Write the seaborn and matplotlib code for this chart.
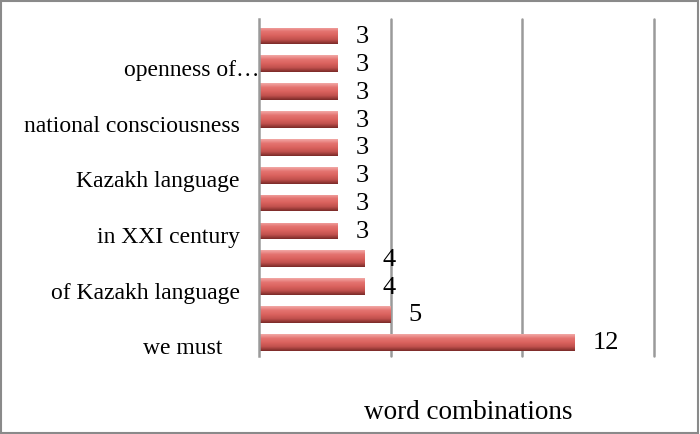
import numpy as np
import matplotlib
matplotlib.use("Agg")
import matplotlib.pyplot as plt
import matplotlib.transforms as mtransforms
from matplotlib.colors import LinearSegmentedColormap
from matplotlib.patches import Rectangle
import seaborn as sns
import pandas as pd

# ---- data (top to bottom, as shown) ----
slots = [f"p{i}" for i in range(12)]
tick_labels = ["", "openness of\u2026", "", "national consciousness", "",
               "Kazakh language", "", "in XXI century", "",
               "of Kazakh language", "", "we must   "]
counts = [3, 3, 3, 3, 3, 3, 3, 3, 4, 4, 5, 12]
x_label = "word combinations"

sns.set_theme(style="white")
plt.rcParams["font.family"] = ["Liberation Serif", "DejaVu Serif"]
plt.rcParams["text.color"] = "black"

df = pd.DataFrame({"slot": slots, "count": counts})

fig = plt.figure(figsize=(7, 4.35), dpi=100)
ax = fig.add_axes([0.37, 0.179, 0.5636, 0.775])

sns.barplot(data=df, x="count", y="slot", order=slots, orient="h",
            width=0.6, color="#C0504D", ax=ax, saturation=1)

# cylinder-like shading on each bar
shade = LinearSegmentedColormap.from_list(
    "shade", ["#F2A8A6", "#E4736F", "#DA625E", "#C0504D", "#7A2A28"])
grad = np.linspace(0, 1, 64).reshape(-1, 1)
for p in ax.patches:
    x0, y0, w, h = p.get_x(), p.get_y(), p.get_width(), p.get_height()
    im = ax.imshow(grad, cmap=shade, aspect="auto", origin="upper",
                   extent=(x0, x0 + w, y0 + h, y0), zorder=2)
    im.set_clip_path(p)
    p.set_facecolor("none")
    p.set_edgecolor("none")

ax.set_xlim(0, 15)
ax.set_ylim(11.5, -0.61)

# gridlines at 5, 10, 15
ax.set_xticks([5, 10, 15])
ax.grid(axis="x", visible=False)
for gx in [5, 10, 15]:
    ax.axvline(gx, color="#9a9a9a", linewidth=1.8, zorder=0, clip_on=False)
ax.tick_params(axis="x", length=0, labelbottom=False)
ax.tick_params(axis="y", length=0, pad=19 * 0.72)

ax.set_yticks(range(len(slots)))
ax.set_yticklabels(tick_labels, fontsize=17, color="black")
down = mtransforms.ScaledTranslation(0, -3 / 100, fig.dpi_scale_trans)
for i, lab in enumerate(ax.get_yticklabels()):
    t = lab.get_transform() + down
    if i == 1:
        t = t + mtransforms.ScaledTranslation(19 / 100, 0, fig.dpi_scale_trans)
    lab.set_transform(t)

ax.set_xlabel("")
ax.set_ylabel("")
for side in ["top", "right", "bottom"]:
    ax.spines[side].set_visible(False)
ax.spines["left"].set_color("#9a9a9a")
ax.spines["left"].set_linewidth(1.8)

ax.bar_label(ax.containers[0], labels=[str(c) for c in counts],
             padding=18 * 0.72, fontsize=19, color="black")

fig.text(468 / 700, 1 - 413 / 435, x_label, fontsize=19.5, color="black",
         ha="center", va="center")

# outer frame
fig.patches.append(Rectangle((0.002, 0.003), 0.995, 0.993, transform=fig.transFigure,
                             fill=False, edgecolor="#8a8a8a", linewidth=1.5))

fig.savefig("out.png", dpi=100)
